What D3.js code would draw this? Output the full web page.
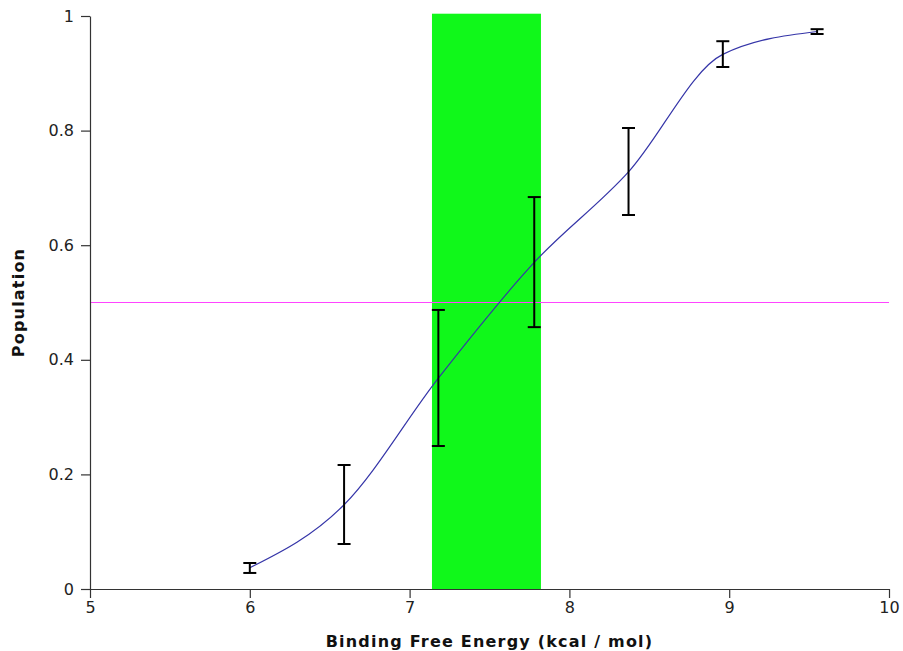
<!DOCTYPE html>
<html>
<head>
<meta charset="utf-8">
<script src="https://cdn.jsdelivr.net/npm/d3@7"></script>
<style>
  body { margin: 0; background: #fff; }
  svg { font-family: "DejaVu Sans", sans-serif; }
</style>
</head>
<body>
<svg width="903" height="651"></svg>
<script>
// binding energies (kcal/mol) and population with error bar ends
const energy = [6.0, 6.59, 7.18, 7.78, 8.37, 8.96, 9.55];
const popLow = [0.028, 0.0785, 0.2496, 0.457, 0.6527, 0.911, 0.9686];
const popHigh = [0.0454, 0.2164, 0.487, 0.684, 0.8045, 0.956, 0.977];
const popMid = [0.037, 0.147, 0.368, 0.570, 0.728, 0.933, 0.973];

const xTicks = [5, 6, 7, 8, 9, 10];
const yTicks = [0, 0.2, 0.4, 0.6, 0.8, 1];

const band = [7.14, 7.822];   // highlighted range
const bandTop = 1.004;
const halfLine = 0.5;

let svg = d3.select("svg");
let margin = {top: 16, right: 14, bottom: 62, left: 90};
let width = +svg.attr("width") - margin.left - margin.right,
    height = +svg.attr("height") - margin.top - margin.bottom;

let x = d3.scaleLinear().domain([5, 10]).range([0, width]),
    y = d3.scaleLinear().domain([0, 1]).range([height, 0]);

let g = svg.append("g")
  .attr("transform", "translate(" + margin.left + "," + margin.top + ")");

// green band
g.append("rect")
  .attr("x", x(band[0]))
  .attr("y", y(bandTop))
  .attr("width", x(band[1]) - x(band[0]))
  .attr("height", y(0) - y(bandTop))
  .attr("fill", "#10f81a");

// 50% line
g.append("line")
  .attr("x1", x(5)).attr("x2", x(10))
  .attr("y1", y(halfLine)).attr("y2", y(halfLine))
  .attr("stroke", "#ff44ff")
  .attr("stroke-width", 1.2);

// smooth curve through the means
let pts = energy.map((e, i) => [e, popMid[i]]);
let line = d3.line()
  .x(d => x(d[0]))
  .y(d => y(d[1]))
  .curve(d3.curveMonotoneX);

g.append("path")
  .datum(pts)
  .attr("d", line)
  .attr("fill", "none")
  .attr("stroke", "#3535a8")
  .attr("stroke-width", 1.2);

// error bars
let eb = g.selectAll(".err")
  .data(energy)
  .enter().append("g")
    .attr("class", "err")
    .attr("stroke", "#000")
    .attr("stroke-width", 2);

eb.append("line")
  .attr("x1", d => x(d)).attr("x2", d => x(d))
  .attr("y1", (d, i) => y(popLow[i]))
  .attr("y2", (d, i) => y(popHigh[i]));

eb.append("line")
  .attr("x1", d => x(d) - 6.5).attr("x2", d => x(d) + 6.5)
  .attr("y1", (d, i) => y(popLow[i]))
  .attr("y2", (d, i) => y(popLow[i]));

eb.append("line")
  .attr("x1", d => x(d) - 6.5).attr("x2", d => x(d) + 6.5)
  .attr("y1", (d, i) => y(popHigh[i]))
  .attr("y2", (d, i) => y(popHigh[i]));

// axes
let ax = g.append("g")
  .attr("class", "axis axis--x")
  .attr("transform", "translate(0," + height + ")")
  .call(d3.axisBottom(x).tickValues(xTicks).tickFormat(d3.format("~g")).tickSize(9).tickSizeOuter(0).tickPadding(4));

let ay = g.append("g")
  .attr("class", "axis axis--y")
  .call(d3.axisLeft(y).tickValues(yTicks).tickFormat(d3.format("~g")).tickSize(9).tickSizeOuter(0).tickPadding(7));

g.selectAll(".axis")
  .attr("font-family", "DejaVu Sans, sans-serif")
  .attr("font-size", 16);
g.selectAll(".axis text").attr("fill", "#222");
g.selectAll(".axis path, .axis line").attr("stroke", "#333").attr("stroke-width", 1.2);

// axis titles
svg.append("text")
  .attr("x", margin.left + width / 2)
  .attr("y", 647)
  .attr("text-anchor", "middle")
  .attr("font-weight", "bold")
  .attr("font-size", 16)
  .attr("letter-spacing", 1.2)
  .attr("fill", "#111")
  .text("Binding Free Energy (kcal / mol)");

svg.append("text")
  .attr("transform", "translate(24," + (margin.top + height / 2) + ") rotate(-90)")
  .attr("text-anchor", "middle")
  .attr("font-weight", "bold")
  .attr("font-size", 16)
  .attr("letter-spacing", 1.2)
  .attr("fill", "#111")
  .text("Population");
</script>
</body>
</html>
